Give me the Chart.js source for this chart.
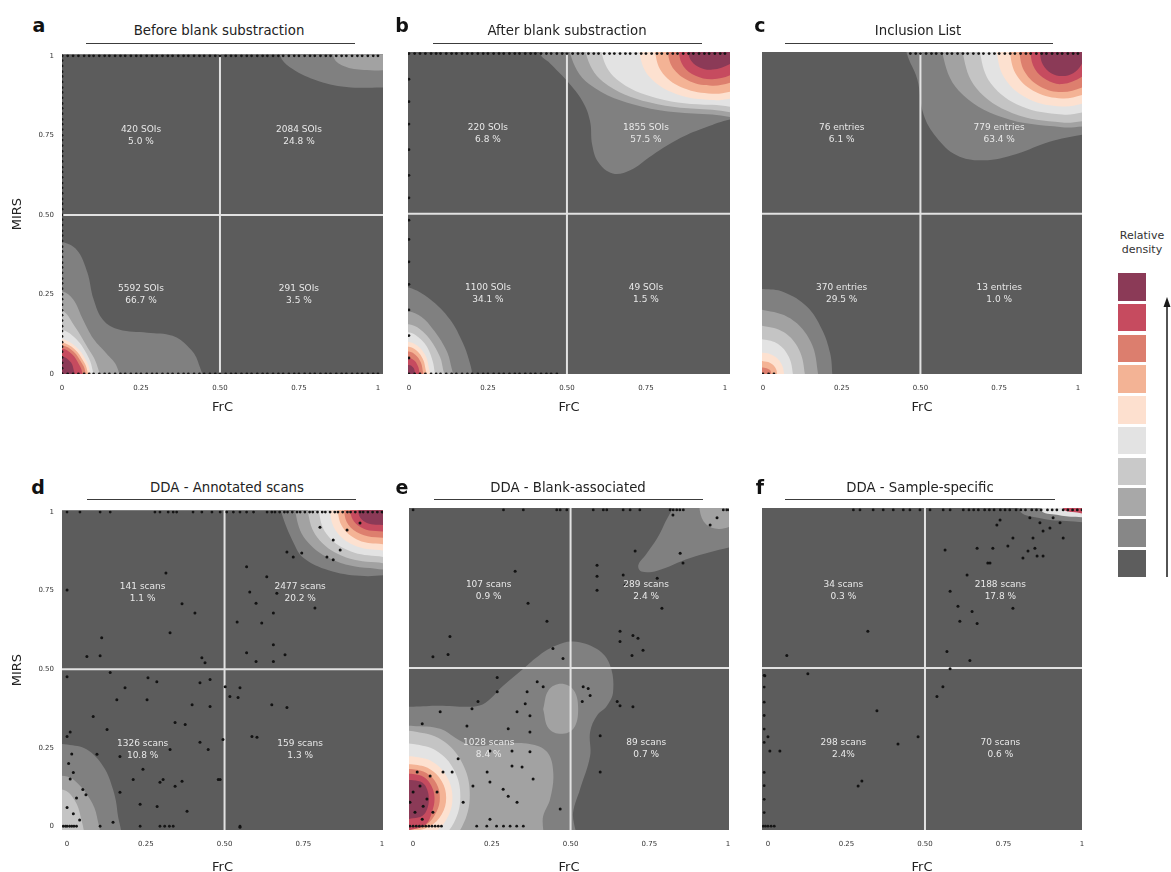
<!DOCTYPE html>
<html>
<head>
<meta charset="utf-8">
<title>Relative density quadrant plots</title>
<script src="https://cdn.jsdelivr.net/npm/chart.js@4.4.1/dist/chart.umd.min.js"></script>
<style>
  html,body{margin:0;padding:0;background:#fff;}
  body{width:1171px;height:872px;position:relative;overflow:hidden;font-family:'DejaVu Sans',sans-serif;color:#222;}
  canvas{position:absolute;}
  .txt{position:absolute;transform:translate(-50%,-50%);white-space:nowrap;line-height:1;}
  .letter{font-weight:bold;font-size:19px;color:#111;}
  .title{font-size:13.3px;color:#222;}
  .cbt{font-size:11px;color:#333;text-align:center;line-height:14px;}
  .uline{position:absolute;height:0;border-top:1.5px solid #3c3c3c;}
  .sw{position:absolute;left:1118px;width:28px;height:27.5px;}
</style>
</head>
<body>
<script>
// ---------------- DATA ----------------
const tickValues = [0, 0.25, 0.5, 0.75, 1];
const tickLabels = ['0', '0.25', '0.50', '0.75', '1'];
const panelLetters = ['a', 'b', 'c', 'd', 'e', 'f'];
const panelTitles = ['Before blank substraction', 'After blank substraction', 'Inclusion List',
                     'DDA - Annotated scans', 'DDA - Blank-associated', 'DDA - Sample-specific'];
// quadrant labels: upper-left, upper-right, lower-left, lower-right
const quadA = [['420 SOIs', '5.0 %'], ['2084 SOIs', '24.8 %'], ['5592 SOIs', '66.7 %'], ['291 SOIs', '3.5 %']];
const quadB = [['220 SOIs', '6.8 %'], ['1855 SOIs', '57.5 %'], ['1100 SOIs', '34.1 %'], ['49 SOIs', '1.5 %']];
const quadC = [['76 entries', '6.1 %'], ['779 entries', '63.4 %'], ['370 entries', '29.5 %'], ['13 entries', '1.0 %']];
const quadD = [['141 scans', '1.1 %'], ['2477 scans', '20.2 %'], ['1326 scans', '10.8 %'], ['159 scans', '1.3 %']];
const quadE = [['107 scans', '0.9 %'], ['289 scans', '2.4 %'], ['1028 scans', '8.4 %'], ['89 scans', '0.7 %']];
const quadF = [['34 scans', '0.3 %'], ['2188 scans', '17.8 %'], ['298 scans', '2.4%'], ['70 scans', '0.6 %']];

// density contour regions: [level (1 = lowest .. 9 = highest), polygon in data coords (FrC, MIRS)]
const contourA = [
  [1, [[-0.05,0.415],[0,0.415],[0.047,0.39],[0.08,0.32],[0.10,0.235],[0.13,0.17],[0.18,0.14],[0.27,0.13],[0.35,0.12],[0.40,0.085],[0.43,0.04],[0.44,-0.05],[-0.05,-0.05],[-0.05,0.415]]],
  [2, [[-0.05,0.26],[0,0.26],[0.035,0.235],[0.067,0.17],[0.10,0.11],[0.14,0.065],[0.175,0.02],[0.18,-0.05],[-0.05,-0.05],[-0.05,0.26]]],
  [3, [[-0.05,0.2],[0,0.2],[0.04,0.15],[0.08,0.085],[0.11,0.03],[0.12,-0.05],[-0.05,-0.05],[-0.05,0.2]]],
  [4, [[-0.05,0.14],[0,0.14],[0.045,0.11],[0.08,0.06],[0.095,0.02],[0.1,-0.05],[-0.05,-0.05],[-0.05,0.14]]],
  [5, [[-0.05,0.11],[0,0.11],[0.045,0.085],[0.075,0.045],[0.088,0.01],[0.09,-0.05],[-0.05,-0.05],[-0.05,0.11]]],
  [6, [[-0.05,0.1],[0,0.1],[0.04,0.078],[0.068,0.04],[0.08,0.01],[0.082,-0.05],[-0.05,-0.05],[-0.05,0.1]]],
  [7, [[-0.05,0.09],[0,0.09],[0.037,0.07],[0.062,0.035],[0.073,0.01],[0.075,-0.05],[-0.05,-0.05],[-0.05,0.09]]],
  [8, [[-0.05,0.08],[0,0.08],[0.032,0.062],[0.054,0.03],[0.063,0.008],[0.065,-0.05],[-0.05,-0.05],[-0.05,0.08]]],
  [9, [[-0.05,0.055],[0,0.055],[0.02,0.045],[0.034,0.025],[0.04,-0.05],[-0.05,-0.05],[-0.05,0.055]]],
  [1, [[0.66,1.1],[0.69,1.0],[0.72,0.965],[0.80,0.925],[0.90,0.902],[1.02,0.90],[1.1,0.9],[1.1,1.1],[0.66,1.1]]],
  [2, [[0.85,1.1],[0.86,0.995],[0.90,0.965],[0.965,0.955],[1.02,0.955],[1.1,0.96],[1.1,1.1],[0.85,1.1]]]
];
const contourB = [
  [1, [[0.40,1.1],[0.415,1.0],[0.446,0.97],[0.50,0.915],[0.55,0.85],[0.573,0.79],[0.58,0.715],[0.60,0.66],[0.645,0.626],[0.70,0.636],[0.77,0.683],[0.86,0.737],[0.94,0.77],[1.02,0.795],[1.1,0.80],[1.1,1.1],[0.40,1.1]]],
  [2, [[0.51,1.1],[0.51,1.0],[0.57,0.905],[0.735,0.835],[0.96,0.81],[1.1,0.815],[1.1,1.1],[0.51,1.1]]],
  [3, [[0.56,1.1],[0.56,1.0],[0.614,0.9125],[0.76,0.848],[0.96,0.825],[1.1,0.83],[1.1,1.1],[0.56,1.1]]],
  [4, [[0.61,1.1],[0.61,1.0],[0.657,0.92],[0.785,0.861],[0.96,0.84],[1.1,0.85],[1.1,1.1],[0.61,1.1]]],
  [5, [[0.73,1.1],[0.73,1.0],[0.761,0.9275],[0.845,0.874],[0.96,0.855],[1.02,0.86],[1.1,0.875],[1.1,1.1],[0.73,1.1]]],
  [6, [[0.78,1.1],[0.78,1.0],[0.804,0.9375],[0.87,0.892],[0.96,0.875],[1.02,0.882],[1.1,0.9],[1.1,1.1],[0.78,1.1]]],
  [7, [[0.82,1.1],[0.82,1.0],[0.839,0.95],[0.89,0.913],[0.96,0.9],[1.02,0.91],[1.1,0.94],[1.1,1.1],[0.82,1.1]]],
  [8, [[0.855,1.1],[0.855,1.0],[0.869,0.96],[0.907,0.931],[0.96,0.92],[1.02,0.934],[1.1,0.98],[1.1,1.1],[0.855,1.1]]],
  [9, [[0.885,1.1],[0.885,1.0],[0.895,0.975],[0.92,0.9567],[0.96,0.95],[1.02,0.97],[1.05,1.0],[1.05,1.1],[0.885,1.1]]],
  [1, [[-0.05,0.27],[0,0.27],[0.066,0.234],[0.13,0.17],[0.17,0.098],[0.19,0.044],[0.2,0],[0.2,-0.05],[-0.05,-0.05],[-0.05,0.27]]],
  [2, [[-0.05,0.195],[0,0.195],[0.04,0.178],[0.076,0.14],[0.11,0.09],[0.13,0.04],[0.135,-0.05],[-0.05,-0.05],[-0.05,0.195]]],
  [3, [[-0.05,0.155],[0,0.155],[0.035,0.14],[0.065,0.11],[0.09,0.07],[0.105,0.03],[0.108,-0.05],[-0.05,-0.05],[-0.05,0.155]]],
  [4, [[-0.05,0.13],[0,0.13],[0.03,0.115],[0.055,0.088],[0.072,0.05],[0.08,0.015],[0.082,-0.05],[-0.05,-0.05],[-0.05,0.13]]],
  [5, [[-0.05,0.10],[0,0.10],[0.027,0.088],[0.048,0.065],[0.06,0.035],[0.065,-0.05],[-0.05,-0.05],[-0.05,0.10]]],
  [6, [[-0.05,0.085],[0,0.085],[0.023,0.074],[0.04,0.054],[0.05,0.028],[0.055,-0.05],[-0.05,-0.05],[-0.05,0.085]]],
  [7, [[-0.05,0.07],[0,0.07],[0.02,0.06],[0.034,0.043],[0.042,0.02],[0.045,-0.05],[-0.05,-0.05],[-0.05,0.07]]],
  [8, [[-0.05,0.05],[0,0.05],[0.016,0.043],[0.026,0.03],[0.032,0.012],[0.034,-0.05],[-0.05,-0.05],[-0.05,0.05]]],
  [9, [[-0.05,0.028],[0,0.028],[0.012,0.022],[0.018,0.01],[0.02,-0.05],[-0.05,-0.05],[-0.05,0.028]]]
];
const contourC = [
  [1, [[0.44,1.1],[0.457,1.0],[0.49,0.92],[0.51,0.81],[0.55,0.74],[0.615,0.683],[0.70,0.667],[0.805,0.687],[0.91,0.725],[1.02,0.748],[1.1,0.755],[1.1,1.1],[0.44,1.1]]],
  [2, [[0.57,1.1],[0.57,1.0],[0.621,0.885],[0.76,0.801],[0.95,0.77],[1.02,0.773],[1.1,0.78],[1.1,1.1],[0.57,1.1]]],
  [3, [[0.635,1.1],[0.635,1.0],[0.677,0.8925],[0.7925,0.814],[0.95,0.785],[1.02,0.79],[1.1,0.8],[1.1,1.1],[0.635,1.1]]],
  [4, [[0.69,1.1],[0.69,1.0],[0.725,0.905],[0.82,0.8355],[0.95,0.81],[1.02,0.817],[1.1,0.835],[1.1,1.1],[0.69,1.1]]],
  [5, [[0.743,1.1],[0.743,1.0],[0.771,0.9175],[0.8465,0.857],[0.95,0.835],[1.02,0.845],[1.1,0.87],[1.1,1.1],[0.743,1.1]]],
  [6, [[0.785,1.1],[0.785,1.0],[0.807,0.93],[0.8675,0.879],[0.95,0.86],[1.02,0.873],[1.1,0.9],[1.1,1.1],[0.785,1.1]]],
  [7, [[0.815,1.1],[0.815,1.0],[0.833,0.94],[0.8825,0.896],[0.95,0.88],[1.02,0.897],[1.1,0.94],[1.1,1.1],[0.815,1.1]]],
  [8, [[0.85,1.1],[0.85,1.0],[0.863,0.9525],[0.90,0.918],[0.95,0.905],[1.02,0.932],[1.1,0.99],[1.1,1.1],[0.85,1.1]]],
  [9, [[0.88,1.1],[0.88,1.0],[0.889,0.965],[0.915,0.939],[0.95,0.93],[0.985,0.939],[1.011,0.965],[1.02,1.0],[1.02,1.1],[0.88,1.1]]],
  [1, [[-0.05,0.265],[0,0.265],[0.065,0.256],[0.14,0.21],[0.187,0.14],[0.213,0.066],[0.22,0],[0.22,-0.05],[-0.05,-0.05],[-0.05,0.265]]],
  [2, [[-0.05,0.2],[0,0.2],[0.0875,0.173],[0.152,0.1],[0.175,0],[0.175,-0.05],[-0.05,-0.05],[-0.05,0.2]]],
  [3, [[-0.05,0.15],[0,0.15],[0.067,0.13],[0.115,0.075],[0.133,0],[0.133,-0.05],[-0.05,-0.05],[-0.05,0.15]]],
  [4, [[-0.05,0.108],[0,0.108],[0.048,0.094],[0.082,0.054],[0.095,0],[0.095,-0.05],[-0.05,-0.05],[-0.05,0.108]]],
  [5, [[-0.05,0.066],[0,0.066],[0.034,0.057],[0.058,0.033],[0.067,0],[0.067,-0.05],[-0.05,-0.05],[-0.05,0.066]]],
  [6, [[-0.05,0.04],[0,0.04],[0.022,0.035],[0.039,0.02],[0.045,0],[0.045,-0.05],[-0.05,-0.05],[-0.05,0.04]]],
  [7, [[-0.05,0.02],[0,0.02],[0.015,0.016],[0.025,0.008],[0.028,-0.05],[-0.05,-0.05],[-0.05,0.02]]]
];
const contourD = [
  [1, [[-0.05,0.263],[0,0.26],[0.063,0.244],[0.115,0.19],[0.146,0.117],[0.16,0.044],[0.162,-0.05],[-0.05,-0.05],[-0.05,0.263]]],
  [2, [[-0.05,0.16],[0,0.158],[0.03,0.14],[0.073,0.086],[0.095,0.03],[0.097,-0.05],[-0.05,-0.05],[-0.05,0.16]]],
  [3, [[-0.05,0.117],[-0.01,0.115],[0.016,0.095],[0.04,0.044],[0.047,-0.05],[-0.05,-0.05],[-0.05,0.117]]],
  [1, [[0.66,1.1],[0.68,1.0],[0.72,0.90],[0.75,0.855],[0.83,0.815],[0.93,0.797],[1.02,0.80],[1.1,0.81],[1.1,1.1],[0.66,1.1]]],
  [2, [[0.725,1.1],[0.725,1.0],[0.759,0.91],[0.8525,0.844],[0.98,0.82],[1.1,0.825],[1.1,1.1],[0.725,1.1]]],
  [3, [[0.765,1.1],[0.765,1.0],[0.794,0.92],[0.8725,0.861],[0.98,0.84],[1.1,0.845],[1.1,1.1],[0.765,1.1]]],
  [4, [[0.80,1.1],[0.80,1.0],[0.824,0.93],[0.89,0.879],[0.98,0.86],[1.1,0.865],[1.1,1.1],[0.80,1.1]]],
  [5, [[0.835,1.1],[0.835,1.0],[0.854,0.94],[0.9075,0.896],[0.98,0.88],[1.1,0.885],[1.1,1.1],[0.835,1.1]]],
  [6, [[0.86,1.1],[0.86,1.0],[0.876,0.95],[0.92,0.913],[0.98,0.90],[1.1,0.905],[1.1,1.1],[0.86,1.1]]],
  [7, [[0.88,1.1],[0.88,1.0],[0.893,0.96],[0.93,0.931],[0.98,0.92],[1.1,0.925],[1.1,1.1],[0.88,1.1]]],
  [8, [[0.90,1.1],[0.90,1.0],[0.911,0.97],[0.94,0.948],[0.98,0.94],[1.1,0.945],[1.1,1.1],[0.90,1.1]]],
  [9, [[0.925,1.1],[0.925,1.0],[0.932,0.98],[0.952,0.965],[0.98,0.96],[1.1,0.965],[1.1,1.1],[0.925,1.1]]]
];
const contourE = [
  [1, [[-0.05,0.378],[0,0.378],[0.083,0.381],[0.19,0.378],[0.23,0.39],[0.286,0.444],[0.35,0.498],[0.40,0.54],[0.454,0.571],[0.508,0.584],[0.584,0.56],[0.625,0.51],[0.635,0.425],[0.615,0.38],[0.584,0.35],[0.562,0.298],[0.562,0.222],[0.53,0.117],[0.508,0.044],[0.505,-0.05],[-0.05,-0.05],[-0.05,0.378]]],
  [2, [[-0.05,0.317],[0,0.317],[0.086,0.308],[0.14,0.276],[0.19,0.254],[0.276,0.26],[0.37,0.26],[0.425,0.235],[0.445,0.17],[0.435,0.086],[0.413,0.032],[0.40,-0.05],[-0.05,-0.05],[-0.05,0.317]]],
  [2, [[0.413,0.37],[0.43,0.43],[0.47,0.45],[0.51,0.43],[0.524,0.37],[0.51,0.31],[0.47,0.292],[0.43,0.31],[0.413,0.37]]],
  [3, [[-0.05,0.30],[0,0.30],[0.09,0.273],[0.156,0.2],[0.18,0.1],[0.156,0.0],[0.09,-0.073],[0,-0.1],[-0.05,-0.1],[-0.05,0.30]]],
  [4, [[-0.05,0.26],[0,0.26],[0.075,0.238],[0.13,0.178],[0.15,0.095],[0.13,0.012],[0.075,-0.048],[0,-0.07],[-0.05,-0.07],[-0.05,0.26]]],
  [5, [[-0.05,0.22],[0,0.22],[0.0625,0.203],[0.108,0.155],[0.125,0.09],[0.108,0.025],[0.0625,-0.023],[0,-0.04],[-0.05,-0.04],[-0.05,0.22]]],
  [6, [[-0.05,0.195],[0,0.195],[0.0525,0.181],[0.091,0.1425],[0.105,0.09],[0.091,0.0375],[0.0525,-0.001],[0,-0.015],[-0.05,-0.015],[-0.05,0.195]]],
  [7, [[-0.05,0.18],[0,0.18],[0.0425,0.168],[0.074,0.135],[0.085,0.09],[0.074,0.045],[0.0425,0.005],[0,-0.01],[-0.05,-0.01],[-0.05,0.18]]],
  [8, [[-0.05,0.165],[0,0.165],[0.035,0.155],[0.058,0.128],[0.068,0.09],[0.06,0.045],[0.04,0.005],[0,-0.01],[-0.05,-0.01],[-0.05,0.165]]],
  [9, [[-0.05,0.145],[0,0.145],[0.03,0.137],[0.045,0.115],[0.05,0.085],[0.045,0.055],[0.03,0.033],[0,0.025],[-0.05,0.025],[-0.05,0.145]]],
  [1, [[0.80,1.1],[0.825,1.02],[0.80,0.96],[0.775,0.91],[0.74,0.86],[0.715,0.825],[0.725,0.805],[0.775,0.808],[0.88,0.848],[1.02,0.885],[1.1,0.9],[1.1,1.1],[0.80,1.1]]],
  [2, [[0.91,1.1],[0.91,1.0],[0.93,0.955],[0.97,0.94],[1.02,0.95],[1.1,0.96],[1.1,1.1],[0.91,1.1]]]
];
const contourF = [
  [1, [[0.80,1.1],[0.80,1.0],[0.86,0.975],[0.95,0.965],[1.1,0.97],[1.1,1.1],[0.80,1.1]]],
  [4, [[0.87,1.1],[0.87,1.0],[0.92,0.985],[0.98,0.978],[1.1,0.98],[1.1,1.1],[0.87,1.1]]],
  [8, [[0.94,1.1],[0.94,1.005],[0.97,0.993],[1.1,0.99],[1.1,1.1],[0.94,1.1]]]
];

// individual scans drawn as black points (FrC, MIRS)
const dotsD = [[0.0,0.752],[0.314,0.806],[0.365,0.708],[0.406,0.679],[0.327,0.616],[0.11,0.6],[0.063,0.54],[0.105,0.543],[0.428,0.536],[0.438,0.52],
  [0.58,0.746],[0.60,0.71],[0.634,0.794],[0.666,0.742],[0.787,0.695],[0.655,0.679],[0.618,0.647],[0.54,0.65],[0.655,0.578],[0.57,0.552],[0.60,0.524],[0.655,0.524],[0.692,0.546],[0.57,0.826],[0.698,0.873],[0.718,0.857],[0.745,0.87],[0.825,0.857],[0.845,0.848],[0.867,0.879],[0.803,0.952],[0.889,0.943],[0.93,0.965],[0.845,0.911],
  [0.137,0.489],[0.0,0.476],[0.184,0.441],[0.257,0.473],[0.285,0.46],[0.158,0.403],[0.254,0.403],[0.343,0.33],[0.375,0.324],[0.397,0.387],[0.454,0.381],[0.422,0.457],[0.454,0.467],[0.083,0.349],[0.127,0.308],[0.0,0.286],[0.095,0.229],[0.168,0.222],[0.327,0.244],[0.422,0.267],[0.448,0.244],[0.21,0.149],[0.241,0.181],[0.295,0.14],[0.305,0.149],[0.365,0.143],[0.343,0.127],[0.232,0.07],[0.286,0.063],[0.168,0.108],[0.381,0.048],[0.48,0.149],[0.146,0.013],[0.01,0.3],[0.05,0.117],[0.02,0.171],
  [0.005,0.2],[0.01,0.15],[0.03,0.09],[0.0,0.06],[0.02,0.04],[0.04,0.02],[0.06,0.1],[0.015,0.23],
  [0.502,0.444],[0.517,0.413],[0.549,0.441],[0.543,0.41],[0.65,0.387],[0.698,0.378],[0.587,0.286],[0.603,0.283],[0.495,0.276],[0.486,0.149],[0.549,-0.003]];
const dotsE = [[0.425,0.648],[0.365,0.705],[0.117,0.6],[0.111,0.543],[0.063,0.536],[0.324,0.806],[0.267,0.47],
  [0.584,0.825],[0.584,0.79],[0.584,0.746],[0.667,0.794],[0.673,0.762],[0.775,0.784],[0.79,0.689],[0.657,0.616],[0.657,0.584],[0.698,0.603],[0.714,0.594],[0.695,0.54],[0.73,0.556],[0.848,0.863],[0.857,0.832],[0.705,0.87],[0.825,0.984],[0.965,0.975],[0.943,0.952],
  [0.444,0.562],[0.476,0.53],[0.394,0.457],[0.413,0.441],[0.54,0.441],[0.556,0.435],[0.562,0.413],[0.537,0.394],[0.648,0.394],[0.698,0.378],[0.362,0.425],[0.356,0.387],[0.371,0.349],[0.33,0.362],[0.302,0.308],[0.371,0.298],[0.594,0.286],[0.267,0.425],[0.206,0.394],[0.187,0.371],[0.086,0.362],[0.029,0.324],[0.171,0.317],[0.244,0.238],[0.314,0.238],[0.371,0.235],[0.314,0.19],[0.346,0.187],[0.381,0.149],[0.235,0.171],[0.19,0.127],[0.244,0.14],[0.286,0.117],[0.302,0.095],[0.33,0.076],[0.244,0.022],[0.467,0.054],[0.159,0.076],[0.143,0.213],[0.124,0.171],
  [0.013,0.171],[0.022,0.127],[0.0,0.108],[0.044,0.086],[0.032,0.063],[0.006,0.044],[0.054,0.159],[0.029,0.022],[0.063,0.044],[-0.01,0.076],[0.076,0.108],[0.095,0.171],
  [0.657,0.381],[0.594,0.171]];
const dotsF = [[0.318,0.616],[0.06,0.54],[0.564,0.873],[0.634,0.794],[0.666,0.879],[0.70,0.832],[0.716,0.879],[0.764,0.886],[0.828,0.87],[0.85,0.879],[0.876,0.854],[0.857,0.854],[0.812,0.848],[0.834,0.975],[0.866,0.959],[0.898,0.943],[0.908,0.975],[0.93,0.959],[0.876,0.933],[0.844,0.911],[0.78,0.911],[0.94,0.911],[0.729,0.952],[0.739,0.968],[0.58,0.743],[0.605,0.695],[0.65,0.679],[0.611,0.648],[0.666,0.641],[0.78,0.689],[0.57,0.552],[0.643,0.524],[0.58,0.498],[0.707,0.832],
  [-0.01,0.476],[0.127,0.482],[0.347,0.365],[0.0,0.283],[0.038,0.238],[0.006,0.238],[0.414,0.26],[0.478,0.283],[0.299,0.143],[0.287,0.127],[0.557,0.441],[0.538,0.41]];

// rug points sitting on the plot edges (x values on MIRS = 1 / 0, y values on FrC = 0)
const rugDense = [0,0.018,0.035,0.052,0.07,0.086,0.1,0.118,0.135,0.15,0.168,0.185,0.2,0.218,0.235,0.25,0.268,0.285,0.3,0.318,0.335,0.35,0.368,0.385,0.4,0.418,0.435,0.45,0.468,0.485,0.5,0.518,0.535,0.55,0.568,0.585,0.6,0.618,0.635,0.65,0.668,0.685,0.7,0.718,0.735,0.75,0.768,0.785,0.8,0.818,0.835,0.85,0.868,0.885,0.9,0.918,0.935,0.95,0.968,0.985,1.0];
const rugLeftB = [0.05,0.12,0.2,0.28,0.35,0.42,0.48,0.55,0.62,0.7,0.78,0.85,0.92];
const rugTopD = [0.0,0.041,0.105,0.137,0.279,0.295,0.321,0.337,0.348,0.4,0.428,0.46,0.486,0.507,0.528,0.549,0.57,0.592,0.635,0.65,0.66,0.675,0.69,0.7,0.715,0.73,0.74,0.755,0.77,0.78,0.795,0.81,0.82,0.835,0.85,0.86,0.875,0.89,0.9,0.915,0.93,0.94,0.955,0.97,0.985,1.0];
const rugBottomD = [-0.012,-0.005,0.0,0.008,0.015,0.022,0.03,0.105,0.232,0.295,0.31,0.325,0.337,0.549];
const rugTopE = [0.0,0.287,0.35,0.456,0.467,0.488,0.572,0.604,0.615,0.667,0.689,0.72,0.816,0.826,0.837,0.847,0.858,0.985,0.996,1.004];
const rugBottomE = [-0.01,0.0,0.01,0.02,0.03,0.04,0.05,0.06,0.07,0.08,0.09,0.202,0.234,0.265,0.287,0.308,0.329,0.35];
const rugTopF = [0.272,0.293,0.335,0.367,0.399,0.431,0.452,0.484,0.516,0.558,0.58,0.622,0.64,0.655,0.67,0.69,0.705,0.72,0.74,0.755,0.77,0.79,0.805,0.82,0.84,0.855,0.87,0.89,0.905,0.92,0.94,0.955,0.97,0.985,1.0];
const rugBottomF = [-0.015,-0.008,0.0,0.01,0.02];
const rugLeftF = [0.477,0.44,0.392,0.35,0.307,0.265,0.17,0.128,0.085,0.043];

// ---------------- STYLE / LAYOUT ----------------
// index 0 = plot background (lowest density) ... 9 = highest density
const densityColors = ['#5c5c5c','#808080','#a2a2a2','#c4c4c4','#e3e3e3','#fde1d0','#f4b395','#dd7f6e','#c64b5f','#8b3a57'];
const colorbarColors = ['#8b3a57','#c64b5f','#dc7e6e','#f3b395','#fde0cf','#e3e3e3','#c9c9c9','#a8a8a8','#878787','#5d5d5d'];

const panels = [
  {rect:[62,52,321,322],  xr:[0,1.016],      yr:[0,1.005],      yAxis:true,  titlePad:9, contours:contourA, dots:[], top:rugDense, bottom:rugDense, left:rugDense, labels:quadA, anchors:[[0.25,0.75],[0.75,0.75],[0.25,0.25],[0.75,0.25]]},
  {rect:[408,52,322,322], xr:[-0.003,1.016], yr:[0,1.005],      yAxis:false, titlePad:9, contours:contourB, dots:[], top:rugDense, bottom:rugDense.filter(v => v < 0.47), left:rugLeftB, labels:quadB, anchors:[[0.25,0.75],[0.75,0.75],[0.25,0.25],[0.75,0.25]]},
  {rect:[762,52,320,322], xr:[-0.003,1.013], yr:[0,1.005],      yAxis:false, titlePad:9, contours:contourC, dots:[], top:rugDense.filter(v => v > 0.45), bottom:[0,0.018,0.035], left:[], labels:quadC, anchors:[[0.25,0.75],[0.75,0.75],[0.25,0.25],[0.75,0.25]]},
  {rect:[62,508,321,322], xr:[-0.016,1.003], yr:[-0.012,1.006], yAxis:true,  titlePad:5, contours:contourD, dots:dotsD, top:rugTopD, bottom:rugBottomD, left:[], labels:quadD, anchors:[[0.24,0.745],[0.74,0.745],[0.24,0.245],[0.74,0.245]]},
  {rect:[409,508,320,322],xr:[-0.013,1.003], yr:[-0.012,1.006], yAxis:false, titlePad:5, contours:contourE, dots:dotsE, top:rugTopE, bottom:rugBottomE, left:[], labels:quadE, anchors:[[0.24,0.745],[0.74,0.745],[0.24,0.245],[0.74,0.245]]},
  {rect:[762,508,320,322],xr:[-0.019,1.0],   yr:[-0.012,1.006], yAxis:false, titlePad:5, contours:contourF, dots:dotsF, top:rugTopF, bottom:rugBottomF, left:rugLeftF, labels:quadF, anchors:[[0.24,0.745],[0.74,0.745],[0.24,0.245],[0.74,0.245]]}
];
const headLayout = [
  {letter:[39,25],  title:[219,31],  line:[86,355,43]},
  {letter:[402,25], title:[567,31],  line:[433,702,43]},
  {letter:[760,25], title:[918,31],  line:[785,1053,43]},
  {letter:[38,487], title:[227,488], line:[87,356,499]},
  {letter:[402,487],title:[568,488], line:[434,703,499]},
  {letter:[760,487],title:[920,488], line:[785,1055,499]}
];

Chart.defaults.font.family = "'DejaVu Sans', sans-serif";

const bgPlugin = {
  id: 'plotBg',
  beforeDatasetsDraw(chart, args, opts) {
    const {ctx, chartArea: a} = chart;
    ctx.save();
    ctx.fillStyle = opts.color;
    ctx.fillRect(a.left, a.top, a.right - a.left, a.bottom - a.top);
    ctx.restore();
  }
};
const quadPlugin = {
  id: 'quadText',
  afterDatasetsDraw(chart, args, opts) {
    const {ctx} = chart;
    const xs = chart.scales.x, ys = chart.scales.y;
    ctx.save();
    ctx.font = "9px 'DejaVu Sans', sans-serif";
    ctx.fillStyle = opts.color;
    ctx.textAlign = 'center';
    ctx.textBaseline = 'middle';
    opts.labels.forEach((lines, i) => {
      const px = xs.getPixelForValue(opts.anchors[i][0]);
      const py = ys.getPixelForValue(opts.anchors[i][1]);
      ctx.fillText(lines[0], px, py - 6);
      ctx.fillText(lines[1], px, py + 6);
    });
    ctx.restore();
  }
};

function buildDatasets(p) {
  const ds = [];
  p.contours.forEach(([lvl, path], i) => {
    ds.push({
      data: path.map(([x, y]) => ({x, y})),
      showLine: true, fill: 'shape',
      backgroundColor: densityColors[lvl],
      borderColor: 'rgba(0,0,0,0)', borderWidth: 0,
      pointRadius: 0, pointHoverRadius: 0,
      tension: 0.38, capBezierPoints: false, clip: 0,
      order: 1000 - i
    });
  });
  ds.push({data: [{x:0.5, y:-1}, {x:0.5, y:2}], showLine: true, fill: false, borderColor: '#e2e2e2', borderWidth: 2, pointRadius: 0, pointHoverRadius: 0, clip: 0, order: 10});
  ds.push({data: [{x:-1, y:0.5}, {x:2, y:0.5}], showLine: true, fill: false, borderColor: '#e2e2e2', borderWidth: 2, pointRadius: 0, pointHoverRadius: 0, clip: 0, order: 10});
  const edge = [];
  p.top.forEach(x => edge.push({x, y: 1}));
  p.bottom.forEach(x => edge.push({x, y: 0}));
  p.left.forEach(y => edge.push({x: p.xr[0] > -0.005 ? 0 : -0.012, y}));
  ds.push({data: edge, pointRadius: 1.4, pointHoverRadius: 0, backgroundColor: '#151515', borderWidth: 0, order: 5});
  ds.push({data: p.dots.map(([x, y]) => ({x, y})), pointRadius: 1.5, pointHoverRadius: 0, backgroundColor: '#121212', borderWidth: 0, order: 4});
  return ds;
}

function xScale(p) {
  return {
    type: 'linear', position: 'bottom', min: p.xr[0], max: p.xr[1],
    afterBuildTicks: ax => { ax.ticks = tickValues.map(v => ({value: v})); },
    afterFit: ax => { ax.height = 50; },
    ticks: {autoSkip: false, maxRotation: 0, padding: 10, color: '#333', font: {size: 7}, callback: (v, i) => tickLabels[i]},
    grid: {display: false, drawTicks: false},
    border: {display: false},
    title: {display: true, text: 'FrC', color: '#222', font: {size: 13}, padding: {top: 0, bottom: p.titlePad}}
  };
}
function yScale(p) {
  return {
    type: 'linear', position: 'left', min: p.yr[0], max: p.yr[1],
    afterBuildTicks: ax => { ax.ticks = tickValues.map(v => ({value: v})); },
    afterFit: ax => { ax.width = 60; },
    ticks: {display: p.yAxis, padding: 8, color: '#333', font: {size: 7}, callback: (v, i) => tickLabels[i]},
    grid: {display: false, drawTicks: false},
    border: {display: false},
    title: {display: p.yAxis, text: 'MIRS', color: '#222', font: {size: 13}, padding: {top: 8, bottom: 0}}
  };
}

panels.forEach((p, k) => {
  const [L, T, W, H] = p.rect;
  const cv = document.createElement('canvas');
  cv.width = W + 75; cv.height = H + 60;
  cv.style.left = (L - 60) + 'px'; cv.style.top = (T - 10) + 'px';
  cv.style.width = cv.width + 'px'; cv.style.height = cv.height + 'px';
  document.body.appendChild(cv);
  new Chart(cv.getContext('2d'), {
    type: 'scatter',
    data: {datasets: buildDatasets(p)},
    options: {
      responsive: false, animation: false, events: [], devicePixelRatio: 1,
      layout: {padding: {left: 0, right: 15, top: 10, bottom: 0}},
      scales: {x: xScale(p), y: yScale(p)},
      plugins: {
        legend: {display: false}, tooltip: {enabled: false},
        plotBg: {color: densityColors[0]},
        quadText: {labels: p.labels, anchors: p.anchors, color: '#e8e8e8'}
      }
    },
    plugins: [bgPlugin, quadPlugin]
  });

  const h = headLayout[k];
  const le = document.createElement('div');
  le.className = 'txt letter'; le.textContent = panelLetters[k];
  le.style.left = h.letter[0] + 'px'; le.style.top = h.letter[1] + 'px';
  document.body.appendChild(le);
  const te = document.createElement('div');
  te.className = 'txt title'; te.textContent = panelTitles[k];
  te.style.left = h.title[0] + 'px'; te.style.top = h.title[1] + 'px';
  document.body.appendChild(te);
  const ul = document.createElement('div');
  ul.className = 'uline';
  ul.style.left = h.line[0] + 'px'; ul.style.top = h.line[2] + 'px'; ul.style.width = (h.line[1] - h.line[0]) + 'px';
  document.body.appendChild(ul);
});

// colour key
const cbt = document.createElement('div');
cbt.className = 'txt cbt'; cbt.innerHTML = 'Relative<br>density';
cbt.style.left = '1142px'; cbt.style.top = '243px';
document.body.appendChild(cbt);
colorbarColors.forEach((c, i) => {
  const s = document.createElement('div');
  s.className = 'sw'; s.style.top = (273 + i * 30.75) + 'px'; s.style.background = c;
  document.body.appendChild(s);
});
</script>
<svg style="position:absolute;left:1155px;top:297px" width="16" height="285">
  <line x1="12" y1="8" x2="12" y2="280" stroke="#1a1a1a" stroke-width="1.5"/>
  <polygon points="12,0 8.5,10 15.5,10" fill="#1a1a1a"/>
</svg>
</body>
</html>
